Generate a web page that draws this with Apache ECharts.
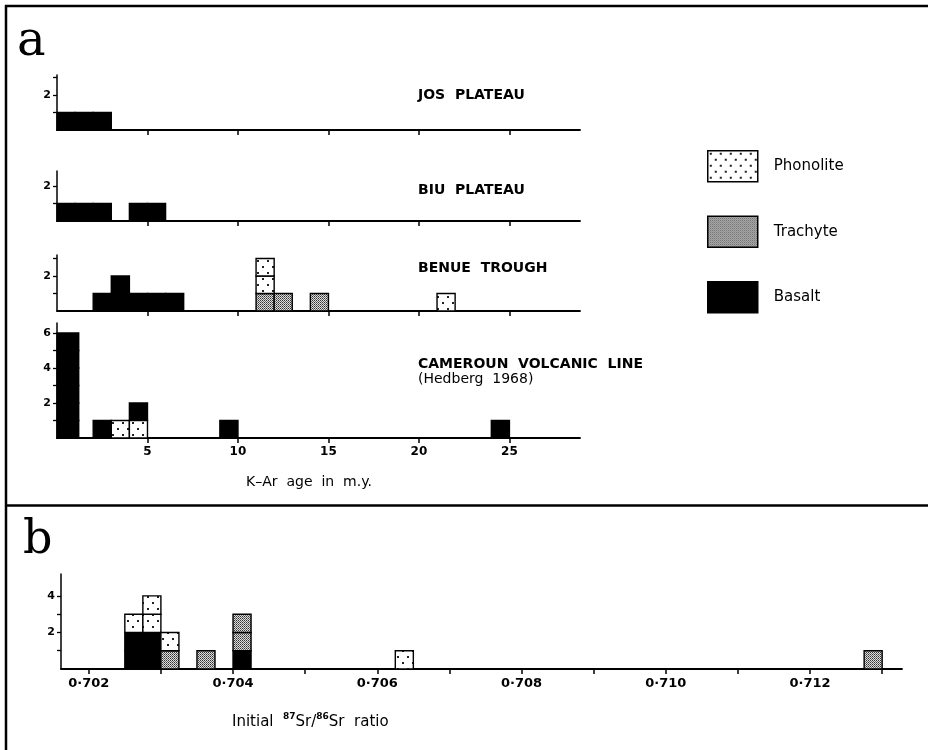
<!DOCTYPE html>
<html>
<head>
<meta charset="utf-8">
<script src="https://cdn.jsdelivr.net/npm/echarts@6/dist/echarts.min.js"></script>
<style>html,body{margin:0;padding:0;background:#fff}#c{width:928px;height:750px}</style>
</head>
<body>
<div id="c"></div>
<script>
// ---- data ----
// each bin: [start, end, samples from bottom up]  B = Basalt, T = Trachyte, P = Phonolite
const josBins = [[0,1,'B'],[1,2,'B'],[2,3,'B']];
const biuBins = [[0,1,'B'],[1,2,'B'],[2,3,'B'],[4,5,'B'],[5,6,'B']];
const benueBins = [[2,3,'B'],[3,4,'B','B'],[4,5,'B'],[5,6,'B'],[6,7,'B'],[11,12,'T','P','P'],[12,13,'T'],[14,15,'T'],[21,22,'P']];
const cameroonBins = [[0,1.2,'B','B','B','B','B','B'],[2,3,'B'],[3,4,'P'],[4,5,'P','B'],[9,10,'B'],[24,25,'B']];
const srBins = [[0.70250,0.70275,'B','B','P'],[0.70275,0.70300,'B','B','P','P'],[0.70300,0.70325,'T','P'],[0.70350,0.70375,'T'],[0.70400,0.70425,'B','T','T'],[0.70625,0.70650,'P'],[0.71275,0.71300,'T']];

const panelTitles = ['JOS  PLATEAU','BIU  PLATEAU','BENUE  TROUGH','CAMEROUN  VOLCANIC  LINE'];
const ageTicks = [5,10,15,20,25];
const ageLabels = [5,10,15,20,25];
const srTicks = [0.702,0.703,0.704,0.705,0.706,0.707,0.708,0.709,0.710,0.711,0.712,0.713];
const srLabels = [0.702,0.704,0.706,0.708,0.710,0.712];
const rockNames = {P:'Phonolite', T:'Trachyte', B:'Basalt'};

// ---- patterns ----
function makeTile(w,h,draw){const c=document.createElement('canvas');c.width=w;c.height=h;const g=c.getContext('2d');draw(g);return c;}
const phonoTile = makeTile(10,12,g=>{g.fillStyle='#fff';g.fillRect(0,0,10,12);g.fillStyle='#222';g.fillRect(2,2,2,2);g.fillRect(7,8,2,2);});
const trachTile = makeTile(2,2,g=>{g.fillStyle='#dcdcdc';g.fillRect(0,0,2,2);g.fillStyle='#333';g.fillRect(0,0,1,1);g.fillStyle='#6a6a6a';g.fillRect(1,1,1,1);});
const fills = {
  P:{image:phonoTile,repeat:'repeat'},
  T:{image:trachTile,repeat:'repeat'},
  B:'#000'
};

function segs(bins, code){
  const out=[];
  bins.forEach(b=>{
    for(let i=2;i<b.length;i++){ if(b[i]===code) out.push([b[0],b[1],i-2,i-1]); }
  });
  return out;
}

const FONT='DejaVu Sans';
const grids = [
  {left:57,width:523,top:75,height:55},
  {left:57,width:523,top:171,height:50},
  {left:57,width:523,top:255,height:56},
  {left:57,width:523,top:323,height:115},
  {left:61,width:841,top:574,height:95}
];
const yMax=[3.14,2.86,3.2,6.57,5.2];
const yTicks=[[1,2,3],[1,2],[1,2,3],[1,2,3,4,5,6],[1,2,3,4]];
const yLabs=[[2],[2],[2],[2,4,6],[2,4]];
const panels=[josBins,biuBins,benueBins,cameroonBins,srBins];

const xAxes=[], yAxes=[], series=[];
for(let i=0;i<5;i++){
  const isSr = i===4;
  xAxes.push({
    type:'value', gridIndex:i,
    min: isSr?0.701615:0, max: isSr?0.713275:28.9,
    axisLine:{show:true,onZero:false,lineStyle:{color:'#000',width:1.8}},
    axisTick:{show:true,length:5,lineStyle:{color:'#000',width:1.5},customValues: isSr?srTicks:ageTicks},
    axisLabel:{show: i>=3, margin:8, color:'#000', fontFamily:FONT, fontWeight:'bold', fontSize: isSr?13:12,
      customValues: isSr?srLabels:ageLabels,
      formatter: v=> isSr ? v.toFixed(3).replace('.','·') : String(v)},
    splitLine:{show:false}
  });
  yAxes.push({
    type:'value', gridIndex:i, min:0, max:yMax[i],
    axisLine:{show:true,lineStyle:{color:'#000',width:1.5}},
    axisTick:{show:true,length:4,lineStyle:{color:'#000',width:1.3},customValues:yTicks[i]},
    axisLabel:{show:true,margin:6,color:'#000',fontFamily:FONT,fontWeight:'bold',fontSize:11,customValues:yLabs[i]},
    splitLine:{show:false}
  });
  ['B','T','P'].forEach(code=>{
    series.push({
      type:'custom', name:rockNames[code], xAxisIndex:i, yAxisIndex:i,
      itemStyle:{color:fills[code]},
      data:segs(panels[i],code),
      encode:{x:[0,1],y:[2,3]},
      renderItem:(params,api)=>{
        const a=api.coord([api.value(0),api.value(3)]);
        const b=api.coord([api.value(1),api.value(2)]);
        return {type:'rect',shape:{x:a[0],y:a[1],width:b[0]-a[0],height:b[1]-a[1]},
          style:{fill:fills[code],stroke:'#000',lineWidth:1.4}};
      }
    });
  });
}

const titleY=[95,190,268,364];
const graphics=[
  {type:'line',shape:{x1:6,y1:5,x2:6,y2:750},style:{stroke:'#000',lineWidth:2.5}},
  {type:'line',shape:{x1:5,y1:6,x2:928,y2:6},style:{stroke:'#000',lineWidth:2.5}},
  {type:'line',shape:{x1:5,y1:505.5,x2:928,y2:505.5},style:{stroke:'#000',lineWidth:2.5}},
  {type:'text',style:{x:17,y:19,text:'a',font:'48px "DejaVu Serif"',fill:'#000',verticalAlign:'top'}},
  {type:'text',style:{x:23,y:518,text:'b',font:'46px "DejaVu Serif"',fill:'#000',verticalAlign:'top'}},
  {type:'text',style:{x:418,y:379,text:'(Hedberg  1968)',font:'14px "DejaVu Sans"',fill:'#000',verticalAlign:'middle'}},
  {type:'text',style:{x:309,y:482,text:'K–Ar  age  in  m.y.',font:'14px "DejaVu Sans"',fill:'#000',align:'center',verticalAlign:'middle'}},
  {type:'text',style:{x:232,y:722,text:'Initial  {sup|87}Sr/{sup|86}Sr  ratio',font:'15px "DejaVu Sans"',fill:'#000',verticalAlign:'middle',lineHeight:20,
    rich:{sup:{fontSize:9,fontWeight:'bold',fontFamily:FONT,verticalAlign:'top',lineHeight:10}}}}
];
panelTitles.forEach((t,k)=>graphics.push({type:'text',style:{x:418,y:titleY[k],text:t,font:'bold 14px "DejaVu Sans"',fill:'#000',verticalAlign:'middle'}}));

const chart=echarts.init(document.getElementById('c'),null,{renderer:'canvas'});
chart.setOption({
  backgroundColor:'#fff',
  animation:false,
  grid:grids,
  xAxis:xAxes,
  yAxis:yAxes,
  legend:{
    orient:'vertical', left:702, top:145, itemWidth:50, itemHeight:31, itemGap:33,
    icon:'rect',
    textStyle:{fontFamily:FONT,fontSize:15,color:'#000',padding:[0,0,0,11]},
    data:[
      {name:'Phonolite',itemStyle:{color:fills.P,borderColor:'#000',borderWidth:1.5}},
      {name:'Trachyte',itemStyle:{color:fills.T,borderColor:'#000',borderWidth:1.5}},
      {name:'Basalt',itemStyle:{color:'#000',borderColor:'#000',borderWidth:1.5}}
    ],
    selectedMode:false
  },
  graphic:graphics,
  series:series
});
</script>
</body>
</html>
